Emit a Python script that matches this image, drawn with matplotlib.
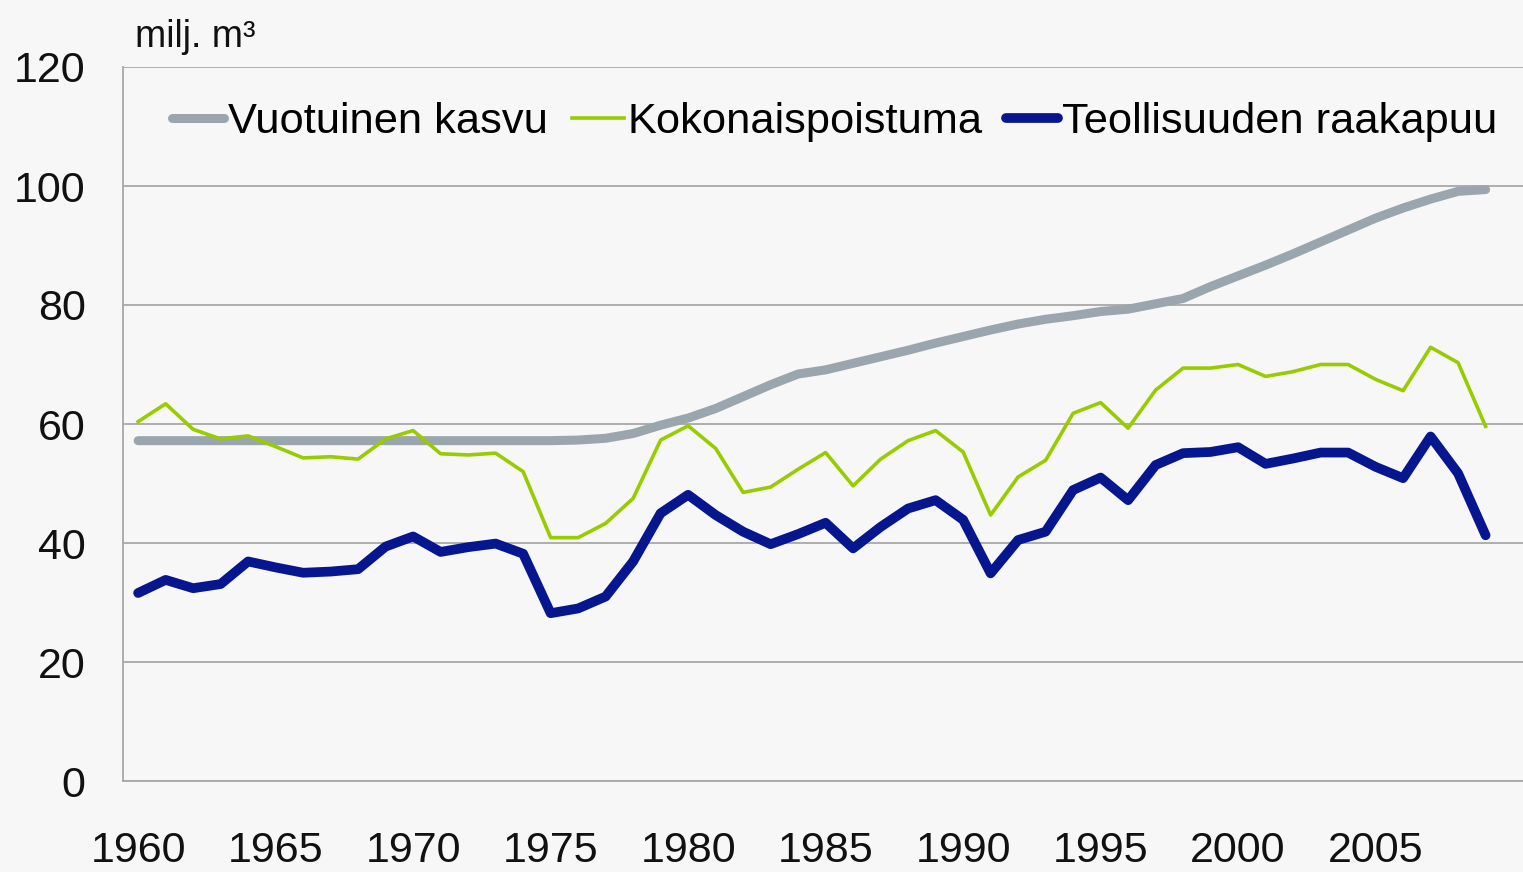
import matplotlib.pyplot as plt

plt.rcParams['font.family'] = ['Liberation Sans', 'DejaVu Sans']

years = list(range(1960, 2010))

# Vuotuinen kasvu (annual increment), milj. m3
kasvu = [57.2, 57.2, 57.2, 57.2, 57.2, 57.2, 57.2, 57.2, 57.2, 57.2,
         57.2, 57.2, 57.2, 57.2, 57.2, 57.2, 57.3, 57.6, 58.4, 59.8,
         61.0, 62.6, 64.6, 66.6, 68.4, 69.1, 70.2, 71.3, 72.4, 73.6,
         74.7, 75.8, 76.8, 77.6, 78.2, 78.9, 79.3, 80.2, 81.1, 83.1,
         84.9, 86.7, 88.6, 90.6, 92.6, 94.6, 96.3, 97.8, 99.1, 99.4]

# Kokonaispoistuma (total drain)
poistuma = [60.4, 63.4, 59.1, 57.5, 58.0, 56.2, 54.3, 54.5, 54.1, 57.5,
            58.9, 55.0, 54.8, 55.1, 52.0, 40.9, 40.9, 43.3, 47.5, 57.3,
            59.7, 55.9, 48.5, 49.4, 52.4, 55.2, 49.6, 54.1, 57.2, 58.9,
            55.3, 44.7, 51.1, 53.9, 61.8, 63.6, 59.3, 65.7, 69.4, 69.4,
            70.0, 68.0, 68.8, 70.0, 70.0, 67.5, 65.6, 72.9, 70.3, 59.6]

# Teollisuuden raakapuu (industrial roundwood)
raakapuu = [31.6, 33.8, 32.4, 33.1, 36.9, 35.9, 35.0, 35.2, 35.6, 39.4,
            41.1, 38.5, 39.3, 39.9, 38.2, 28.2, 29.0, 31.0, 36.9, 45.0,
            48.1, 44.7, 41.9, 39.8, 41.5, 43.4, 39.1, 42.7, 45.8, 47.2,
            43.9, 34.9, 40.5, 41.9, 48.9, 51.0, 47.2, 53.1, 55.1, 55.3,
            56.1, 53.3, 54.2, 55.2, 55.2, 52.8, 50.9, 57.9, 51.7, 41.3]

labels = ['Vuotuinen kasvu', 'Kokonaispoistuma', 'Teollisuuden raakapuu']
xticks = list(range(1960, 2010, 5))
yticks = [0, 20, 40, 60, 80, 100, 120]

fig = plt.figure(figsize=(15.23, 8.72), dpi=100)
fig.patch.set_facecolor('#f7f7f7')
ax = fig.add_axes([123 / 1523, 1 - 781 / 872, 1400 / 1523, 714 / 872])
ax.set_facecolor('#f7f7f7')

ax.plot(years, kasvu, color='#9aa6ae', lw=6.5, solid_capstyle='round', label=labels[0])
ax.plot(years, poistuma, color='#99cc00', lw=2.6, label=labels[1])
ax.plot(years, raakapuu, color='#06168f', lw=7, solid_capstyle='round', label=labels[2])

ax.set_xlim(1959.45, 2010.36)
ax.set_ylim(0, 120)
ax.set_xticks(xticks)
ax.set_yticks(yticks)
ax.tick_params(axis='both', length=0, labelsize=31, colors='#111111')
ax.tick_params(axis='x', pad=36)
ax.tick_params(axis='y', pad=27)
ax.yaxis.grid(True, color='#a8a8a8', lw=1.3)
ax.set_axisbelow(True)
for s in ['top', 'right']:
    ax.spines[s].set_visible(False)
for s in ['left', 'bottom']:
    ax.spines[s].set_color('#a8a8a8')
    ax.spines[s].set_linewidth(1.3)

ax.legend(loc='center left', bbox_to_anchor=(0.035, 0.923), ncol=3, frameon=False,
          fontsize=31.2, handlelength=1.2, handletextpad=0.09, columnspacing=0.55,
          borderaxespad=0, borderpad=0)

fig.text(135 / 1523, 1 - 47 / 872, 'milj. m³', fontsize=27, va='baseline', color='#111111')

plt.savefig('out.png', dpi=100)
plt.close()
